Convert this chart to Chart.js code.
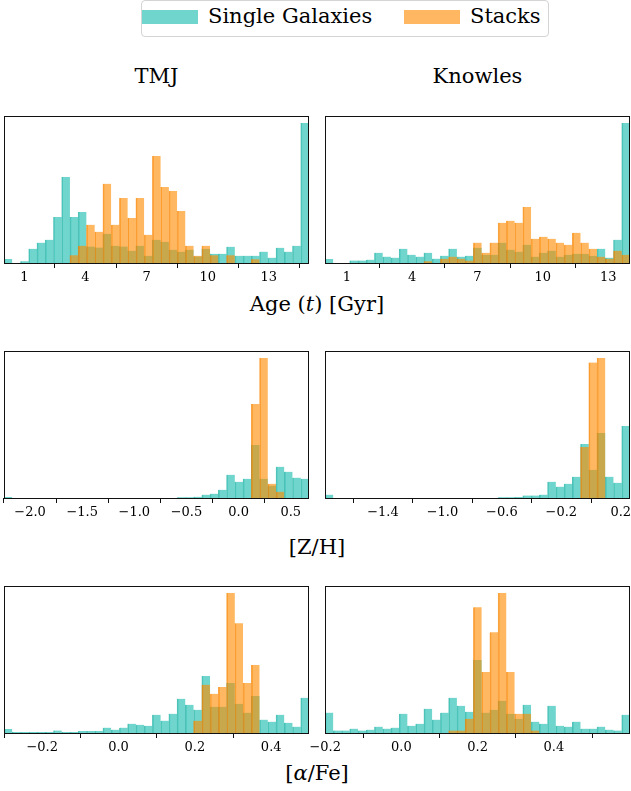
<!DOCTYPE html>
<html>
<head>
<meta charset="utf-8">
<script src="https://cdn.jsdelivr.net/npm/chart.js@4.4.1/dist/chart.umd.min.js"></script>
<style>
  html, body { margin: 0; padding: 0; background: #fff; overflow: hidden; }
  body { width: 631px; height: 791px; position: relative; font-family: "DejaVu Serif", serif; color: #000; }
  .panel { position: absolute; }
  .txt { position: absolute; white-space: nowrap; font-size: 21px; line-height: 21px; }
  .center { transform: translateX(-50%); }
  .legend-box { position: absolute; left: 141px; top: 0px; width: 406px; height: 35px; border: 1px solid #d4d4d4; border-radius: 4px; background: #fff; }
  .patch { position: absolute; width: 56px; height: 14px; }
</style>
</head>
<body>

<div class="legend-box"></div>
<div class="patch" style="left:142px; top:10px; background:rgb(112,214,205);"></div>
<div class="txt" style="left:208px; top:6px;">Single Galaxies</div>
<div class="patch" style="left:404px; top:10px; background:rgb(255,184,97);"></div>
<div class="txt" style="left:470px; top:6px;">Stacks</div>

<div class="txt center" style="left:156.5px; top:66px;">TMJ</div>
<div class="txt center" style="left:477.5px; top:66px;">Knowles</div>

<div class="txt center" style="left:317px; top:294px;">Age (<i>t</i>) [Gyr]</div>
<div class="txt center" style="left:317px; top:537px;">[Z/H]</div>
<div class="txt center" style="left:317px; top:763px;">[<i>α</i>/Fe]</div>

<script>
// histogram heights, 37 equal bins per panel, scaled to the tallest bar of the panel
var ageTmjRange = [0.0, 14.97];
var ageTmjSingle = [2.8, 0, 1.2, 10.2, 14.5, 16.6, 32.9, 61.4, 32.9, 36.5, 11.8, 11.1, 20.9, 12.3, 11.8, 8.8, 12.3, 5.2, 16.6, 15.2,
    9.5, 8.1, 9.5, 4.7, 10.2, 6.6, 6.6, 11.6, 5.2, 5.2, 5.2, 8.1, 3.8, 10.9, 8.1, 12.3, 100];
var ageTmjStacks = [0, 0, 0, 0, 0, 0, 0, 0, 5.5, 12.3, 27.3, 22.3, 56.6, 27.3, 46.4, 32.2, 46.4, 20.1, 76.5, 54.3,
    51.4, 37.2, 12.3, 5.2, 12.3, 5.5, 0, 5.5, 0, 0, 2.6, 0, 0, 0, 0, 0, 0];

var ageKnowlesRange = [0.0, 14.0];
var ageKnowlesSingle = [2.8, 0, 0, 1.7, 1.7, 2.4, 7.3, 4.5, 3.8, 10.2, 5.9, 4.5, 7.3, 3.1, 5.2, 10.2, 4.5, 5.2, 10.9, 5.9,
    5.9, 14.5, 9.5, 8.1, 13.0, 4.5, 7.3, 8.8, 4.5, 5.9, 6.6, 6.6, 5.2, 10.2, 3.8, 16.6, 100];
var ageKnowlesStacks = [0, 0, 0, 0, 0, 0, 0, 0, 0, 0, 0, 0, 1.2, 0, 3.1, 4.5, 3.1, 1.7, 14.5, 7.3,
    14.5, 28.7, 30.1, 28.7, 40.0, 17.3, 18.7, 17.3, 14.5, 13.0, 21.6, 14.5, 10.2, 4.5, 3.1, 8.8, 5.9];

var zhTmjRange = [-2.25, 0.675];
var zhTmjSingle = [0.7, 0, 0, 0, 0, 0, 0, 0, 0, 0, 0, 0, 0, 0, 0, 0, 0, 0, 0, 0,
    0, 0.5, 0.5, 0.9, 2.4, 3.1, 5.9, 16.6, 11.6, 13.7, 37.9, 13.7, 8.8, 22.3, 18.7, 14.5, 13.7];
var zhTmjStacks = [0, 0, 0, 0, 0, 0, 0, 0, 0, 0, 0, 0, 0, 0, 0, 0, 0, 0, 0, 0,
    0, 0, 0, 0, 0, 0, 0, 0, 0, 0, 67.1, 100, 10.2, 4.5, 0, 0, 0];

var zhKnowlesRange = [-1.79, 0.262];
var zhKnowlesSingle = [2.4, 0, 0, 0, 0, 0, 0, 0, 0, 0, 0, 0, 0, 0, 0, 0, 0, 0, 0, 0,
    0, 0.5, 0.5, 0.7, 1.7, 1.7, 2.4, 11.6, 8.1, 10.2, 15.2, 38.6, 20.1, 46.4, 15.2, 10.9, 51.4];
var zhKnowlesStacks = [0, 0, 0, 0, 0, 0, 0, 0, 0, 0, 0, 0, 0, 0, 0, 0, 0, 0, 0, 0,
    0, 0, 0, 0, 0, 0, 0, 0, 0, 0, 0, 36.5, 96.7, 100, 0, 0, 0];

var afeTmjRange = [-0.30, 0.499];
var afeTmjSingle = [2.8, 0.7, 0.7, 0.7, 0.7, 0.7, 1.7, 0.7, 0.7, 1.4, 1.4, 1.4, 3.8, 2.4, 3.8, 6.6, 5.9, 5.2, 13.0, 8.8,
    13.7, 24.4, 20.1, 16.6, 40.8, 18.7, 18.7, 35.8, 20.9, 14.5, 26.5, 9.5, 8.1, 13.0, 7.3, 4.5, 25.1];
var afeTmjStacks = [0, 0, 0, 0, 0, 0, 0, 0, 0, 0, 0, 0, 0, 0, 0, 0, 0, 0, 0, 0,
    0, 0, 0, 8.8, 34.4, 28.0, 32.9, 100, 78.4, 35.8, 48.6, 0, 0, 0, 0, 0, 0];

var afeKnowlesRange = [-0.2005, 0.5995];
var afeKnowlesSingle = [14.5, 1.7, 1.7, 3.1, 1.7, 2.4, 4.5, 3.1, 3.8, 13.7, 5.2, 6.6, 17.3, 9.5, 14.5, 25.1, 19.4, 15.2, 52.1, 14.5,
    16.6, 23.0, 13.7, 10.2, 20.1, 8.1, 6.6, 19.4, 5.2, 4.5, 8.1, 3.1, 3.1, 4.5, 2.4, 1.7, 13.0];
var afeKnowlesStacks = [0, 0, 0, 0, 0, 0, 0, 0, 0, 0, 0, 0, 0, 0, 0, 1.7, 1.7, 10.2, 89.8, 43.6,
    72.0, 100, 43.6, 13.7, 13.7, 1.7, 0, 0, 0, 0, 0, 0, 0, 0, 0, 0, 0];

var ageTicks = [1, 4, 7, 10, 13];
var zhTmjTicks = [-2.0, -1.5, -1.0, -0.5, 0.0, 0.5];
var zhKnowlesTicks = [-1.4, -1.0, -0.6, -0.2, 0.2];
var afeTicks = [-0.2, 0.0, 0.2, 0.4];

var TEAL = 'rgba(64, 200, 188, 0.75)';
var TEAL_EDGE = 'rgba(40, 178, 165, 0.8)';
var ORANGE = 'rgba(255, 140, 0, 0.62)';
var ORANGE_EDGE = 'rgba(245, 130, 0, 0.72)';
var SERIF = "'DejaVu Serif', 'Liberation Serif', serif";

// plot box sizes and the margins of each canvas around it
var PW = 305, PH = 147, PAD = 30, TOP = 5, AXIS_H = 32;

Chart.defaults.font.family = SERIF;
Chart.defaults.color = '#000';

var frame = {
    id: 'frame',
    afterDraw: function (chart) {
        var a = chart.chartArea, ctx = chart.ctx;
        ctx.save();
        ctx.strokeStyle = '#111';
        ctx.lineWidth = 1;
        ctx.strokeRect(a.left + 0.5, a.top + 0.5, a.right - a.left - 1, a.bottom - a.top);
        ctx.restore();
    }
};

function tickText(digits) {
    return function (value) {
        var s = Number(value).toFixed(digits);
        if (Number(s) === 0) s = (0).toFixed(digits);
        return s.replace('-', '\u2212');
    };
}

function histSet(label, range, counts, color, edge, order) {
    var w = (range[1] - range[0]) / counts.length;
    return {
        label: label,
        data: counts.map(function (c, i) { return { x: range[0] + (i + 0.5) * w, y: c }; }),
        backgroundColor: color,
        borderColor: edge,
        borderWidth: { left: 1, right: 0, top: 0, bottom: 0 },
        borderSkipped: 'bottom',
        grouped: false,
        barPercentage: 1,
        categoryPercentage: 1,
        order: order
    };
}

function drawPanel(p) {
    var wrap = document.createElement('div');
    wrap.className = 'panel';
    wrap.style.left = (p.x - PAD) + 'px';
    wrap.style.top = (p.y - TOP) + 'px';
    wrap.style.width = (PW + 2 * PAD) + 'px';
    wrap.style.height = (PH + TOP + AXIS_H) + 'px';
    var canvas = document.createElement('canvas');
    wrap.appendChild(canvas);
    document.body.appendChild(wrap);

    var peak = Math.max(Math.max.apply(null, p.single), Math.max.apply(null, p.stacks));

    new Chart(canvas, {
        type: 'bar',
        data: {
            datasets: [
                histSet('Single Galaxies', p.range, p.single, TEAL, TEAL_EDGE, 1),
                histSet('Stacks', p.range, p.stacks, ORANGE, ORANGE_EDGE, 0)
            ]
        },
        options: {
            responsive: true,
            maintainAspectRatio: false,
            animation: false,
            layout: { padding: { left: PAD, right: PAD, top: TOP, bottom: 0 } },
            plugins: { legend: { display: false }, tooltip: { enabled: false } },
            scales: {
                x: {
                    type: 'linear',
                    min: p.range[0],
                    max: p.range[1],
                    offset: false,
                    afterBuildTicks: function (scale) {
                        scale.ticks = p.ticks.map(function (v) { return { value: v }; });
                    },
                    afterFit: function (scale) {
                        scale.height = AXIS_H;
                        scale.paddingLeft = 0;
                        scale.paddingRight = 0;
                    },
                    grid: { display: true, drawOnChartArea: false, drawTicks: true, tickLength: 5, color: '#111', lineWidth: 1 },
                    border: { display: false },
                    ticks: {
                        padding: 2,
                        color: '#000',
                        autoSkip: false,
                        maxRotation: 0,
                        font: { family: SERIF, size: 13 },
                        callback: tickText(p.digits)
                    }
                },
                y: { display: false, min: 0, max: peak * 1.05 }
            }
        },
        plugins: [frame]
    });
}

var panels = [
    { x: 4, y: 116, range: ageTmjRange, single: ageTmjSingle, stacks: ageTmjStacks, ticks: ageTicks, digits: 0 },
    { x: 325, y: 116, range: ageKnowlesRange, single: ageKnowlesSingle, stacks: ageKnowlesStacks, ticks: ageTicks, digits: 0 },
    { x: 4, y: 351, range: zhTmjRange, single: zhTmjSingle, stacks: zhTmjStacks, ticks: zhTmjTicks, digits: 1 },
    { x: 325, y: 351, range: zhKnowlesRange, single: zhKnowlesSingle, stacks: zhKnowlesStacks, ticks: zhKnowlesTicks, digits: 1 },
    { x: 4, y: 586, range: afeTmjRange, single: afeTmjSingle, stacks: afeTmjStacks, ticks: afeTicks, digits: 1 },
    { x: 325, y: 586, range: afeKnowlesRange, single: afeKnowlesSingle, stacks: afeKnowlesStacks, ticks: afeTicks, digits: 1 }
];

panels.forEach(drawPanel);
</script>
</body>
</html>
